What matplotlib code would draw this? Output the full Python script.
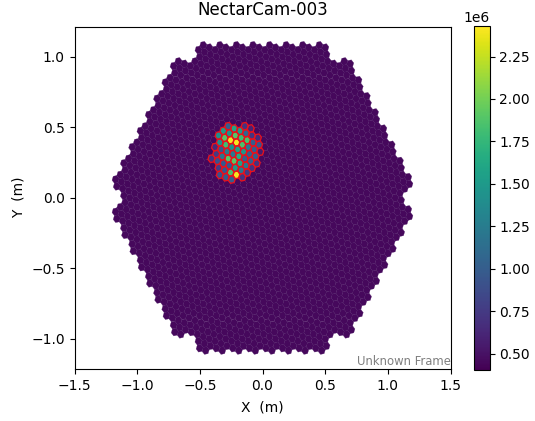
import numpy as np
import matplotlib
matplotlib.use("Agg")
import matplotlib.pyplot as plt
from matplotlib.collections import PolyCollection

W, H = 535, 421
title = "NectarCam-003"
x_label = "X  (m)"
y_label = "Y  (m)"
frame_label = "Unknown Frame"
vmin, vmax = 0.406e6, 2.43e6
background_value = 0.45e6
xlim = (-1.5, 1.5)
ylim = (-1.213, 1.215)
x_ticks = [-1.5, -1.0, -0.5, 0.0, 0.5, 1.0, 1.5]
y_ticks = [-1.0, -0.5, 0.0, 0.5, 1.0]
cbar_ticks = [0.5e6, 0.75e6, 1.0e6, 1.25e6, 1.5e6, 1.75e6, 2.0e6, 2.25e6]

pixel_pitch = 0.05
module_rings = 9
pixel_tilt_deg = -19.107
outer_row_gap = 0.0015

hot_col = [0,0,0,0,0,0,0,0,
           -1,-1,-1,-1,-1,-1,-1,-1,
           -2,-2,-2,-2,-2,-2,-2,-2,
           -3,-3,-3,-3,-3,-3,-3,
           -4,-4,-4,-4,-4,
           -5,
           1,1,1,1,1,1,1,
           2,2,2,2,2,2,2,
           3,3,3,3,3,3,
           4,4,4]
hot_row = [2,1,0,-1,-2,-3,-4,-5,
           2,1,0,-1,-2,-3,-4,-5,
           1,0,-1,-2,-3,-4,-5,-6,
           0,-1,-2,-3,-4,-5,-6,
           -2,-3,-4,-5,-6,
           -4,
           2,1,0,-1,-2,-3,-4,
           3,2,1,0,-1,-2,-3,
           3,2,1,0,-1,-2,
           2,1,0]
hot_val = [1.6,1.9,2.4,1.55,1.65,1.55,1.2,0.7,
           1.0,1.45,2.4,1.45,1.2,1.9,1.5,2.4,
           1.5,1.9,1.8,1.25,1.9,0.95,1.85,1.0,
           1.4,1.4,0.95,1.2,0.95,0.95,1.0,
           0.65,0.75,0.9,0.75,0.9,
           0.7,
           1.5,1.8,1.85,1.45,1.0,1.2,0.75,
           0.7,1.05,1.85,1.2,1.0,1.0,0.7,
           0.6,0.7,1.0,1.0,1.0,0.7,
           0.65,0.95,0.55]

tilt = np.deg2rad(pixel_tilt_deg)
u = pixel_pitch * np.array([np.cos(tilt), np.sin(tilt)])
v = pixel_pitch * np.array([np.cos(tilt + np.pi / 3), np.sin(tilt + np.pi / 3)])
flower = [(0, 0), (1, 0), (0, 1), (-1, 1), (-1, 0), (0, -1), (1, -1)]

pix = []
row_shift = {}
for m in range(-module_rings, module_rings + 1):
    for n in range(-module_rings, module_rings + 1):
        dist = max(abs(m), abs(n), abs(m + n))
        if dist > module_rings:
            continue
        if dist == module_rings and sorted([abs(m), abs(n), abs(m + n)])[0] == 0:
            continue
        a0, b0 = 2 * m - n, m + 3 * n
        for da, db in flower:
            pix.append((a0 + da, b0 + db))
            row_shift[(a0 + da, b0 + db)] = np.sign(n) * outer_row_gap if abs(n) >= 8 else 0.0
pix = sorted(set(pix))
index = {p: i for i, p in enumerate(pix)}
values = np.full(len(pix), background_value)

anchor = (-10, 7)
hot_idx = []
for c, k, val in zip(hot_col, hot_row, hot_val):
    key = (anchor[0] + c - k, anchor[1] + k)
    if key in index:
        values[index[key]] = val * 1e6
        hot_idx.append(index[key])

centers = np.array([a * u + b * v + np.array([0.0, row_shift[(a, b)]]) for a, b in pix])
radius = 1.02 * pixel_pitch / np.sqrt(3)
ang = tilt + np.pi / 6 + np.arange(6) * np.pi / 3
hexagon = radius * np.column_stack([np.cos(ang), np.sin(ang)])
polys = centers[:, None, :] + hexagon[None, :, :]

fig = plt.figure(figsize=(W / 100, H / 100), dpi=100)
ax = fig.add_axes([74.5 / W, 1 - 369 / H, 376 / W, 342.5 / H])
coll = PolyCollection(polys, array=values, cmap="viridis", edgecolors="#4f1c68",
                      linewidths=0.2)
coll.set_clim(vmin, vmax)
ax.add_collection(coll)
ax.add_collection(PolyCollection(polys[hot_idx], facecolors="none", edgecolors="#e8101c",
                                 linewidths=0.95))
ax.set_xlim(*xlim)
ax.set_ylim(*ylim)
ax.set_xticks(x_ticks)
ax.set_yticks(y_ticks)
ax.tick_params(axis="x", pad=4)
ax.set_xlabel(x_label, labelpad=5)
ax.set_ylabel(y_label)
ax.set_title(title, fontsize=12, pad=8)
ax.text(1.0, 0.003, frame_label, transform=ax.transAxes, ha="right", va="bottom",
        color="black", alpha=0.5, fontsize=8.4)

cax = fig.add_axes([474 / W, 1 - 369.5 / H, 15.5 / W, 343.5 / H])
cb = fig.colorbar(coll, cax=cax)
cb.set_ticks(cbar_ticks)
fig.savefig("out.png", dpi=100)
